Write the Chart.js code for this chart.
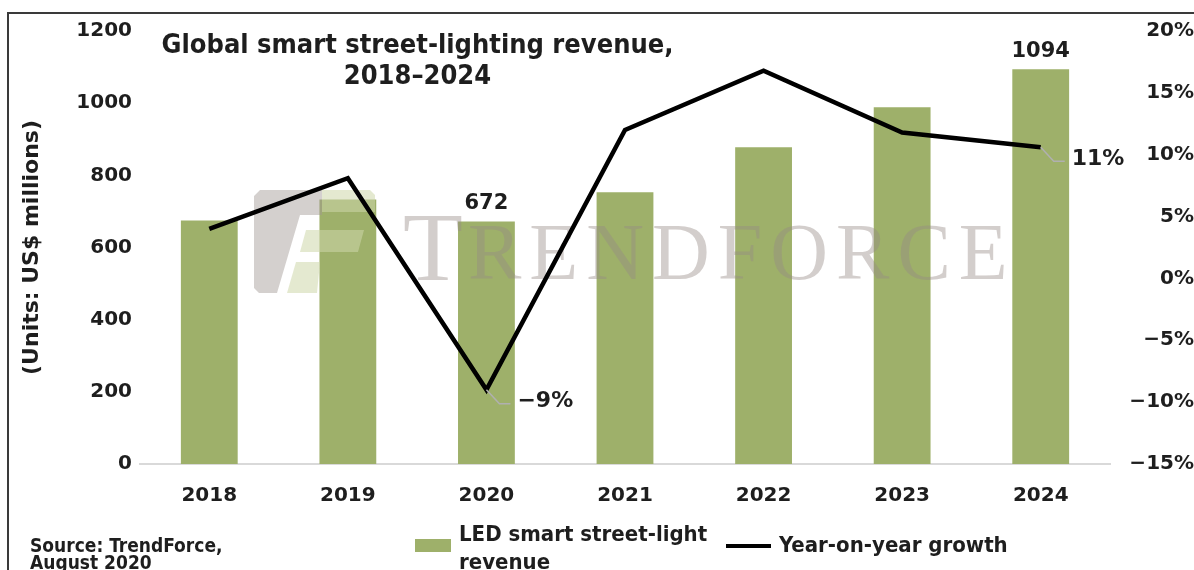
<!DOCTYPE html>
<html>
<head>
<meta charset="utf-8">
<script src="https://cdn.jsdelivr.net/npm/chart.js@4.4.1/dist/chart.umd.min.js"></script>
<style>
  html, body { margin: 0; padding: 0; background: #fff; overflow: hidden; }
  #wrap { position: relative; width: 1194px; height: 570px; }
  #frame { position: absolute; left: 7px; top: 12px; width: 1200px; height: 600px;
           border-top: 2px solid #3a3a3a; border-left: 2px solid #3a3a3a; }
  canvas { position: absolute; left: 0; top: 0; }
  .txt { position: absolute; color: #1e1e1e; font-weight: bold;
         font-family: "DejaVu Sans Condensed", "DejaVu Sans", sans-serif; font-stretch: condensed; }
  #title { left: 140px; top: 28px; width: 555px; text-align: center; font-size: 27px; line-height: 31px; }
  #source { left: 30px; top: 537px; font-size: 19px; line-height: 17px; }
  .key { position: absolute; }
</style>
</head>
<body>
<div id="wrap">
  <div id="frame"></div>
  <canvas id="chart" width="1194" height="570"></canvas>
  <div id="title" class="txt">Global smart street-lighting revenue,<br>2018–2024</div>
  <div id="source" class="txt">Source: TrendForce,<br>August 2020</div>
  <div id="legend"></div>
</div>
<script>
const years = ['2018', '2019', '2020', '2021', '2022', '2023', '2024'];
const revenue = [675, 733, 672, 753, 878, 989, 1094];      // US$ millions
const yoyGrowth = [4.0, 8.1, -9.0, 12.0, 16.8, 11.8, 10.6]; // %
const revenueLabelAt = [2, 6];
const growthLabelAt = [2, 6];
const revenueName = 'LED smart street-light revenue';
const growthName = 'Year-on-year growth';

const barColor = '#9eb06a';
const textColor = '#1e1e1e';
const tickFont = { family: 'DejaVu Sans', size: 20, weight: 'bold' };
const minus = v => (v < 0 ? '\u2212' : '') + Math.abs(v);

function poly(ctx, pts) {
  ctx.beginPath();
  pts.forEach((p, i) => i ? ctx.lineTo(p[0], p[1]) : ctx.moveTo(p[0], p[1]));
  ctx.closePath();
  ctx.fill();
}

// faint TrendForce watermark, painted under the growth line
const watermark = {
  id: 'watermark',
  beforeDatasetDraw(chart, args) {
    if (args.meta.type !== 'line') return;
    const ctx = chart.ctx;
    ctx.save();
    ctx.fillStyle = 'rgba(160,150,146,0.45)';
    poly(ctx, [[260, 190], [322, 190], [322, 215], [300, 215], [277, 293], [259, 293], [254, 288], [254, 196]]);
    ctx.fillStyle = 'rgba(205,215,170,0.55)';
    poly(ctx, [[322, 190], [370, 190], [375, 195], [375, 212], [322, 212]]);
    poly(ctx, [[306, 230], [364, 230], [358, 252], [300, 252]]);
    poly(ctx, [[296, 262], [320, 262], [317, 293], [287, 293]]);
    ctx.fillStyle = 'rgba(150,138,133,0.42)';
    ctx.textBaseline = 'alphabetic';
    ctx.font = '98px "Liberation Serif"';
    ctx.fillText('T', 403, 280);
    ctx.font = '80px "Liberation Serif"';
    ctx.letterSpacing = '8px';
    ctx.fillText('RENDFORCE', 468, 279);
    ctx.restore();
  }
};

// value labels with the little grey leader lines
const pointLabels = {
  id: 'pointLabels',
  afterDatasetsDraw(chart) {
    const ctx = chart.ctx;
    ctx.save();
    ctx.fillStyle = textColor;
    ctx.font = 'bold 21px "DejaVu Sans"';
    ctx.textAlign = 'center';
    ctx.textBaseline = 'bottom';
    const bars = chart.getDatasetMeta(0).data;
    revenueLabelAt.forEach(i => {
      ctx.fillText(String(revenue[i]), bars[i].x, bars[i].y - 7);
    });
    const pts = chart.getDatasetMeta(1).data;
    ctx.font = 'bold 22px "DejaVu Sans"';
    ctx.textAlign = 'left';
    ctx.textBaseline = 'middle';
    growthLabelAt.forEach(i => {
      const p = pts[i];
      ctx.strokeStyle = '#b0b0b0';
      ctx.lineWidth = 1.5;
      ctx.beginPath();
      ctx.moveTo(p.x, p.y);
      ctx.lineTo(p.x + 13, p.y + 14);
      ctx.lineTo(p.x + 24, p.y + 14);
      ctx.stroke();
      ctx.fillStyle = textColor;
      ctx.fillText(minus(Math.round(yoyGrowth[i])) + '%', p.x + 31, p.y + 12);
    });
    ctx.restore();
  }
};

const chart = new Chart(document.getElementById('chart'), {
  type: 'bar',
  data: {
    labels: years,
    datasets: [{
      type: 'bar',
      label: revenueName,
      data: revenue,
      backgroundColor: barColor,
      categoryPercentage: 1,
      barPercentage: 0.41,
      yAxisID: 'y',
      order: 2
    }, {
      type: 'line',
      label: growthName,
      data: yoyGrowth,
      borderColor: '#000',
      borderWidth: 4.5,
      borderJoinStyle: 'miter',
      pointRadius: 0,
      tension: 0,
      yAxisID: 'y1',
      order: 1
    }]
  },
  options: {
    responsive: false,
    animation: false,
    layout: { padding: { left: 10, top: 31, right: 0, bottom: 60 } },
    plugins: { legend: { display: false }, tooltip: { enabled: false } },
    scales: {
      x: {
        grid: { display: false },
        border: { color: '#d9d9d9', width: 2 },
        ticks: { font: tickFont, color: textColor, padding: 12 },
        afterFit(s) { s.height = 46; }
      },
      y: {
        position: 'left',
        min: 0, max: 1200,
        grid: { display: false, drawTicks: false },
        border: { display: false },
        ticks: { stepSize: 200, font: tickFont, color: textColor, padding: 8,
                 callback: v => String(v) },
        title: { display: true, text: '(Units: US$ millions)', color: textColor,
                 font: { family: 'DejaVu Sans', size: 22, weight: 'bold' },
                 padding: { top: 9, bottom: 0 } },
        afterFit(s) { s.width = 130; }
      },
      y1: {
        position: 'right',
        min: -15, max: 20,
        grid: { display: false },
        border: { display: false },
        ticks: { stepSize: 5, font: tickFont, color: textColor, padding: 17,
                 crossAlign: 'far', callback: v => minus(v) + '%' },
        afterFit(s) { s.width = 84; }
      }
    }
  },
  plugins: [watermark, pointLabels]
});

// legend built from the two datasets
const legend = document.getElementById('legend');
legend.innerHTML =
  '<div class="key" style="left:415px;top:539px;width:36px;height:13px;background:' + barColor + '"></div>' +
  '<div class="key txt" style="left:459px;top:520px;font-size:22px;line-height:28px">' +
    chart.data.datasets[0].label.replace(' revenue', '<br>revenue') + '</div>' +
  '<div class="key" style="left:726px;top:544px;width:45px;height:4px;background:#000"></div>' +
  '<div class="key txt" style="left:779px;top:531px;font-size:22px;line-height:28px">' +
    chart.data.datasets[1].label + '</div>';
</script>
</body>
</html>
